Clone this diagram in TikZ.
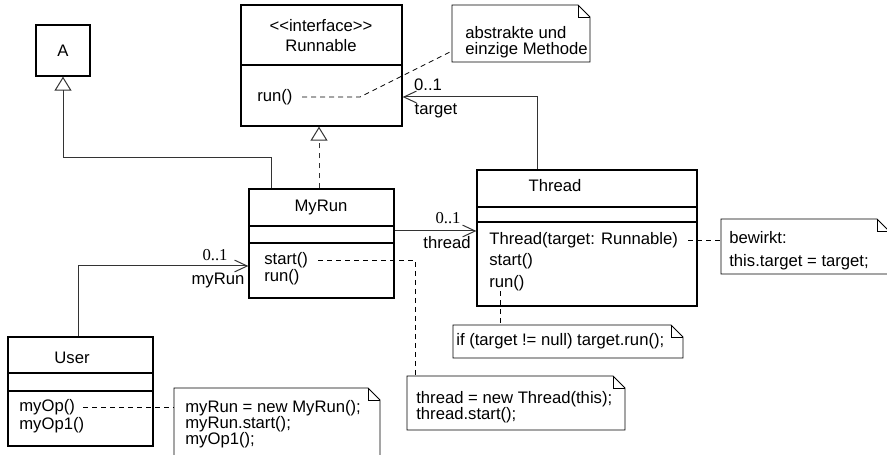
\documentclass[tikz,border=0pt]{standalone}
\usepackage{fontspec}
\setmainfont{Liberation Sans}
\newfontfamily\multfont{Liberation Serif}
\usetikzlibrary{arrows.meta}

\tikzset{
  umlbox/.style={draw, line width=0.8pt, inner sep=0pt},
  txt/.style={inner sep=0pt, anchor=west},
  notetxt/.style={inner sep=0pt, anchor=north west, align=left},
  notebox/.style={line width=0.5pt},
  link/.style={draw=black!80, line width=0.6pt},
  notelink/.style={line width=0.5pt, dash pattern=on 3pt off 2.4pt},
  gen/.style={link, -{Triangle[open, width=10.2pt, length=8.4pt]}},
  assoc/.style={link, -{Straight Barb[length=7.5pt, width=7pt]}},
}

% folded note: name, x1, y1, x2, y2
\newcommand{\foldnote}[5]{%
  \draw[notebox] (#2,#3) -- ({#4-12},#3) -- (#4,{#3+12}) -- (#4,#5) -- (#2,#5) -- cycle;
  \draw[notebox] ({#4-12},#3) -- ({#4-12},{#3+12}) -- (#4,{#3+12});
  \coordinate (#1) at (#2,#3);
}

\begin{document}
\begin{tikzpicture}[x=0.6pt, y=-0.6pt, every node/.style={font=\fontsize{10}{12}\selectfont}]
\useasboundingbox (0,0) rectangle (887,455);
\clip (0,0) rectangle (887,455);

% Class A
\node[umlbox, minimum width=32.4pt, minimum height=30.6pt] (A) at (63,50.5) {A};

% Interface Runnable
\node[umlbox, minimum width=96.6pt, minimum height=72.6pt] (Runnable) at (321.5,65.5) {};
\draw[line width=0.8pt] (Runnable.west |- 0,65) -- (Runnable.east |- 0,65);
\node[inner sep=0pt, align=center, anchor=north] (RunnableName) at (321,19) {<{}<interface>{}>\\Runnable};
\node[txt] (RunOp) at (257,97) {run()};

% Class MyRun
\node[umlbox, minimum width=87pt, minimum height=65.4pt] (MyRun) at (321.5,243.5) {};
\draw[line width=0.8pt] (MyRun.west |- 0,226) -- (MyRun.east |- 0,226);
\draw[line width=0.8pt] (MyRun.west |- 0,243) -- (MyRun.east |- 0,243);
\node[inner sep=0pt] (MyRunName) at (321,207) {MyRun};
\node[txt] (StartOp) at (264,260) {start()};
\node[txt] (MyRunOp) at (264,277) {run()};

% Class Thread
\node[umlbox, minimum width=132pt, minimum height=81.6pt] (Thread) at (587,238) {};
\draw[line width=0.8pt] (Thread.west |- 0,207) -- (Thread.east |- 0,207);
\draw[line width=0.8pt] (Thread.west |- 0,222) -- (Thread.east |- 0,222);
\node[inner sep=0pt] (ThreadName) at (555,186) {Thread};
\node[txt] (CtorOp) at (489,240) {Thread(target: Runnable)};
\node[txt] (ThreadStartOp) at (489,261) {start()};
\node[txt] (ThreadRunOp) at (489,283) {run()};

% Class User
\node[umlbox, minimum width=87pt, minimum height=65.4pt] (User) at (80.5,391.5) {};
\draw[line width=0.8pt] (User.west |- 0,373) -- (User.east |- 0,373);
\draw[line width=0.8pt] (User.west |- 0,391) -- (User.east |- 0,391);
\node[inner sep=0pt] (UserName) at (72,358) {User};
\node[txt] (MyOpOp) at (19,407) {myOp()};
\node[txt] (MyOp1Op) at (19,425) {myOp1()};

% Notes
\foldnote{noteMethode}{452}{5}{590}{62}
\node[notetxt, font=\fontsize{10}{9.6}\selectfont] (noteMethodeTxt) at (465,26) {abstrakte und\\einzige Methode};
\foldnote{noteBewirkt}{721}{219}{889}{274}
\node[notetxt, font=\fontsize{10}{13.8}\selectfont] (noteBewirktTxt) at (729,231) {bewirkt:\\this.target = target;};
\foldnote{noteIf}{453}{325}{683}{358}
\node[txt] (noteIfTxt) at (456,341) {if (target != null) target.run();};
\foldnote{noteStart}{407}{376}{625}{430}
\node[notetxt, font=\fontsize{10}{9.6}\selectfont] (noteStartTxt) at (416,391) {thread = new Thread(this);\\thread.start();};
\foldnote{noteMyOp}{174}{388}{380}{470}
\node[notetxt, font=\fontsize{10}{9.6}\selectfont] (noteMyOpTxt) at (185,400) {myRun = new MyRun();\\myRun.start();\\myOp1();};

% Generalization MyRun -> A
\draw[gen] (MyRun.north -| 271,0) |- (A.south |- 0,158) -- (A.south);

% Realization MyRun -> Runnable
\draw[gen, dashed] (MyRun.north -| 319,0) -- (Runnable.south -| 319,0);

% Thread -> Runnable (target)
\draw[assoc] (Thread.north -| 537,0) |- (Runnable.east |- 0,97);
\node[inner sep=0pt] (targetMult) at (428,85) {0..1};
\node[inner sep=0pt] (targetRole) at (436,111) {target};

% MyRun -> Thread (thread)
\draw[assoc] (MyRun.east |- 0,231) -- (Thread.west |- 0,231);
\node[inner sep=0pt, font=\multfont\fontsize{10}{12}\selectfont] (threadMult) at (448,218) {0..1};
\node[inner sep=0pt] (threadRole) at (447,243) {thread};

% User -> MyRun (myRun)
\draw[assoc] (User.north -| 78,0) |- (MyRun.west |- 0,266);
\node[inner sep=0pt, font=\multfont\fontsize{10}{12}\selectfont] (myRunMult) at (215,255) {0..1};
\node[inner sep=0pt] (myRunRole) at (218,280) {myRun};

% note links
\draw[notelink] (RunOp.east -| 302,0) -- ++(58,0) -- (noteMethode |- 0,51);
\draw[notelink] (StartOp.east -| 318,0) -| ([xshift=4.8pt]noteStart);
\draw[notelink] (ThreadRunOp.south -| 500,0) -- (noteIf -| 500,0);
\draw[notelink] (CtorOp.east -| 688,0) -- (noteBewirkt |- CtorOp.east);
\draw[notelink] (MyOpOp.east -| 83,0) -- (noteMyOp |- MyOpOp.east);
\end{tikzpicture}
\end{document}
